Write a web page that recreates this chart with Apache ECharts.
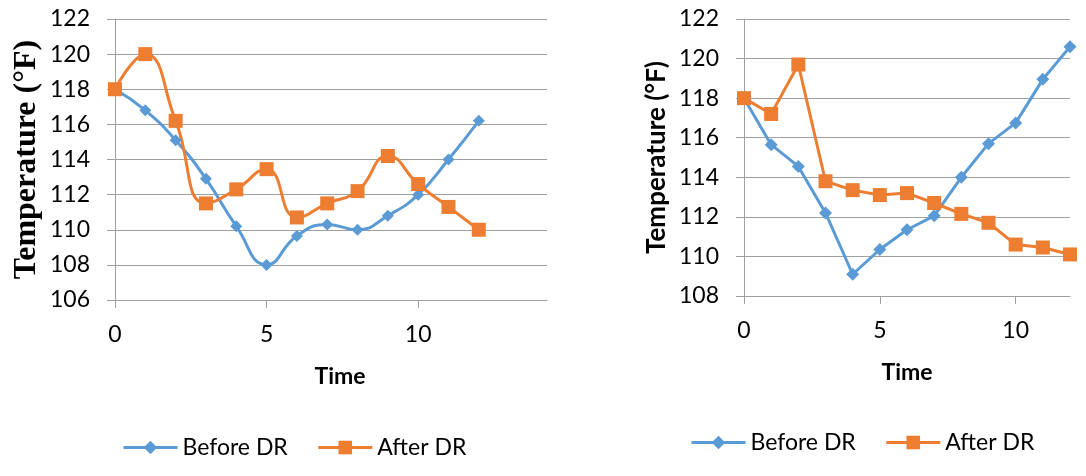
<!DOCTYPE html>
<html>
<head>
<meta charset="utf-8">
<script src="https://cdn.jsdelivr.net/npm/echarts@6/dist/echarts.min.js"></script>
<style>
  html, body { margin: 0; padding: 0; background: #fff; }
  #chart { width: 1086px; height: 476px; }
</style>
</head>
<body>
<div id="chart"></div>
<script>
// Time steps (shared by both panels)
const timeSteps = [0, 1, 2, 3, 4, 5, 6, 7, 8, 9, 10, 11, 12];

// Left panel: temperature before / after demand response (smoothed)
const leftBefore = [118, 116.8, 115.1, 112.9, 110.2, 108.0, 109.65, 110.3, 110.0, 110.8, 112.0, 114.0, 116.2];
const leftAfter  = [118, 120.0, 116.2, 111.5, 112.3, 113.45, 110.7, 111.5, 112.2, 114.2, 112.6, 111.3, 110.0];

// Right panel: temperature before / after demand response
const rightBefore = [118, 115.65, 114.55, 112.2, 109.1, 110.35, 111.35, 112.05, 114.0, 115.7, 116.75, 118.95, 120.6];
const rightAfter  = [118, 117.2, 119.7, 113.8, 113.35, 113.1, 113.2, 112.7, 112.15, 111.7, 110.6, 110.45, 110.1];

// Axis tick labels
const xTickValues = [0, 5, 10];
const seriesNames = ['Before DR', 'After DR'];
const yTitle = 'Temperature (°F)';
const xTitle = 'Time';

const BLUE = '#5B9BD5';
const ORANGE = '#ED7D31';
const GRID_GRAY = '#a0a0a0';
const SANS = 'Lato, "Open Sans", sans-serif';

const pairs = (vals) => vals.map((v, i) => [timeSteps[i], v]);

function xAxisCfg(gridIndex, max, namePad, nameGap) {
  return {
    type: 'value', gridIndex, min: 0, max, interval: 5,
    name: xTitle, nameLocation: 'middle', nameGap,
    nameTextStyle: { fontFamily: SANS, fontWeight: 'bold', fontSize: 23, color: '#000', padding: namePad },
    axisLine: { show: true, lineStyle: { color: GRID_GRAY, width: 1 } },
    axisTick: { show: true, inside: false, length: 8, lineStyle: { color: GRID_GRAY }, customValues: xTickValues },
    axisLabel: { fontFamily: SANS, fontSize: 23, color: '#000', margin: 23, customValues: xTickValues },
    splitLine: { show: false }
  };
}

function yAxisCfg(gridIndex, min, nameStyle, nameGap) {
  return {
    type: 'value', gridIndex, min, max: 122, interval: 2,
    name: yTitle, nameLocation: 'middle', nameGap, nameRotate: 90,
    nameTextStyle: nameStyle,
    axisLine: { show: true, lineStyle: { color: GRID_GRAY, width: 1 } },
    axisTick: { show: true, inside: false, length: 8, lineStyle: { color: GRID_GRAY } },
    axisLabel: { fontFamily: SANS, fontSize: 23, color: '#000', margin: 25 },
    splitLine: { show: true, lineStyle: { color: GRID_GRAY, width: 1 } }
  };
}

function lineSeries(name, data, xi, color, symbol, size, smooth) {
  return {
    name, type: 'line', xAxisIndex: xi, yAxisIndex: xi,
    data: pairs(data), smooth,
    symbol, symbolSize: size,
    lineStyle: { color, width: 3 },
    itemStyle: { color },
    emphasis: { disabled: true },
    animation: false
  };
}

function legendCfg(left, top) {
  return {
    left, top, padding: 0, data: seriesNames, orient: 'horizontal',
    itemWidth: 54, itemHeight: 17, itemGap: 29,
    lineStyle: { width: 3 },
    textStyle: { fontFamily: SANS, fontSize: 23, color: '#000' },
    selectedMode: false
  };
}

const chart = echarts.init(document.getElementById('chart'), null, { renderer: 'canvas' });
chart.setOption({
  backgroundColor: '#fff',
  animation: false,
  grid: [
    { left: 115, top: 19, width: 432, height: 281 },
    { left: 744, top: 19, width: 326, height: 277 }
  ],
  xAxis: [
    xAxisCfg(0, 14.25, [0, 0, 0, 18], 65),
    xAxisCfg(1, 12, 0, 65)
  ],
  yAxis: [
    yAxisCfg(0, 106, { fontFamily: '"Liberation Serif", serif', fontWeight: 'bold', fontSize: 32, color: '#000' }, 72),
    yAxisCfg(1, 108, { fontFamily: SANS, fontWeight: 'bold', fontSize: 26, color: '#000' }, 74)
  ],
  legend: [legendCfg(122, 436), legendCfg(690, 431)],
  series: [
    lineSeries(seriesNames[0], leftBefore, 0, BLUE, 'diamond', 12, 0.5),
    lineSeries(seriesNames[1], leftAfter, 0, ORANGE, 'rect', 14, 0.5),
    lineSeries(seriesNames[0], rightBefore, 1, BLUE, 'diamond', 13, false),
    lineSeries(seriesNames[1], rightAfter, 1, ORANGE, 'rect', 14, false)
  ]
});
</script>
</body>
</html>
